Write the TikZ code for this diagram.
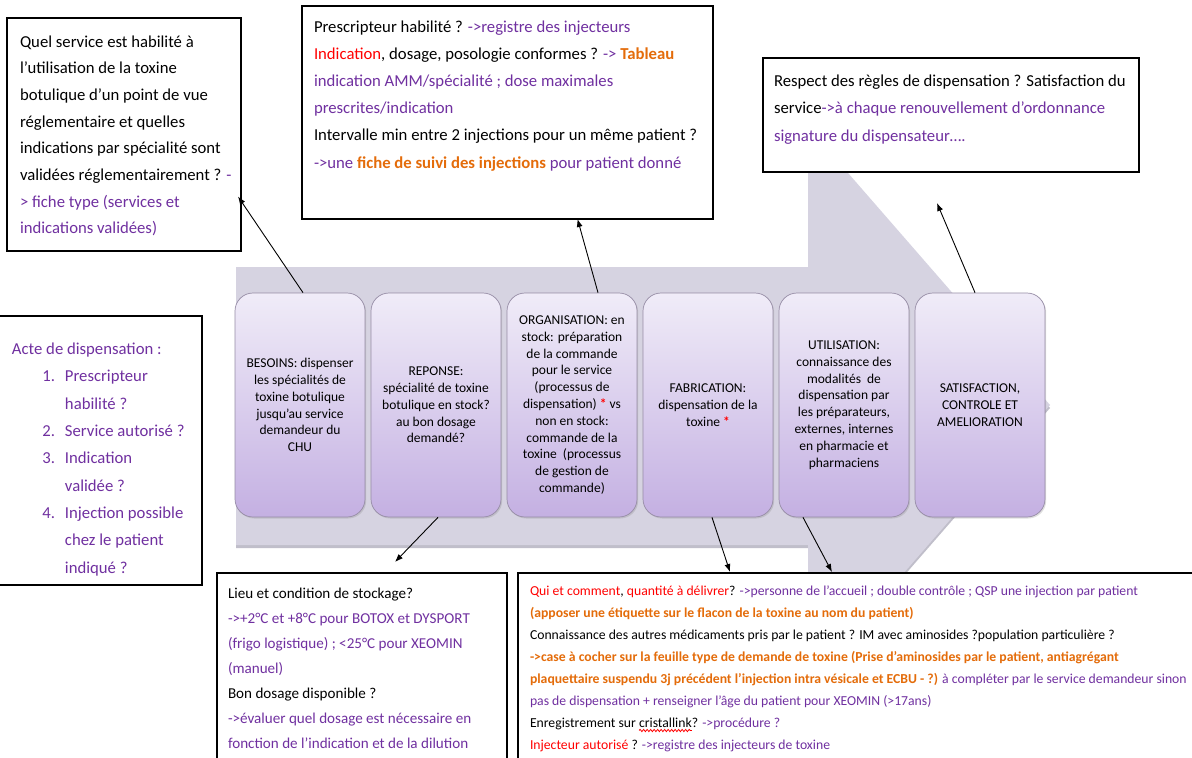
\documentclass[tikz,border=0pt]{standalone}
\usepackage{fontspec}
\setmainfont{Carlito}
\usetikzlibrary{arrows.meta,shadows,decorations.pathmorphing}
\definecolor{pur}{HTML}{7030A0}
\definecolor{org}{HTML}{E46C0A}
\definecolor{rd}{HTML}{FF0000}
\definecolor{arrowgray}{RGB}{214,211,225}
\definecolor{arrowshade}{RGB}{192,190,202}
\definecolor{boxtop}{HTML}{F0ECF8}
\definecolor{boxbot}{HTML}{C4B0E2}
\definecolor{boxedge}{RGB}{150,140,165}
\newcommand\Pu[1]{\textcolor{pur}{#1}}
\newcommand\Rd[1]{\textcolor{rd}{#1}}
\newcommand\Or[1]{\textcolor{org}{\bfseries #1}}
\newcommand\Ast{\textcolor{rd}{\bfseries*}}
\newcommand\Txt[3]{\parbox[t]{900pt}{\fontsize{#1}{#2}\selectfont\raggedright #3}}
\newlength\wavA
\newlength\wavB
\begin{document}
\settowidth{\wavA}{\fontsize{13.7}{22.1}\selectfont Enregistrement sur }%
\settowidth{\wavB}{\fontsize{13.7}{22.1}\selectfont cristallink}%
\begin{tikzpicture}[x=1pt,y=-1pt,
  frame/.style={draw=black, line width=1.1pt, fill=white, anchor=north west, inner sep=0pt, outer sep=0pt},
  txt/.style={anchor=base west, inner sep=0pt, outer sep=0pt},
  pbox/.style={rounded corners=18pt, draw=boxedge, line width=0.7pt, top color=boxtop, bottom color=boxbot,
    minimum width=130pt, minimum height=224pt, inner sep=1pt, align=center,
    font=\fontsize{13.5}{16.8}\selectfont,
    drop shadow={opacity=0.25, shadow xshift=1.2pt, shadow yshift=-1.5pt}},
  arr/.style={-{Latex[length=8pt,width=6pt]}, line width=0.9pt, black},
  wave/.style={draw=rd, line width=0.8pt, decorate, decoration={snake, segment length=3.5pt, amplitude=1.1pt}}]
\useasboundingbox (0,0) rectangle (1192,758);
\clip (0,0) rectangle (1192,758);
\fill[white] (0,0) rectangle (1192,758);

% big process arrow
\fill[arrowshade] (236,270) -- (808,270) -- (808,130) -- (1050,408) -- (808,686) -- (808,548) -- (236,548) -- cycle;
\fill[arrowgray] (236,267) -- (808,267) -- (808,127) -- (1050,405) -- (808,683) -- (808,545) -- (236,545) -- cycle;

% process boxes
\node[pbox] (p1) at (300,405) {BESOINS: dispenser\\les spécialités de\\toxine botulique\\jusqu'au service\\demandeur du\\CHU};
\node[pbox] (p2) at (436,405) {REPONSE:\\spécialité de toxine\\botulique en stock?\\au bon dosage\\demandé?};
\node[pbox] (p3) at (572,405) {ORGANISATION: en\\stock: préparation\\de la commande\\pour le service\\(processus de\\dispensation) \Ast{} vs\\non en stock:\\commande de la\\toxine \ (processus\\de gestion de\\commande)};
\node[pbox] (p4) at (708,405) {FABRICATION:\\dispensation de la\\toxine \Ast};
\node[pbox] (p5) at (844,405) {UTILISATION:\\connaissance des\\modalités \ de\\dispensation par\\les préparateurs,\\externes, internes\\en pharmacie et\\pharmaciens};
\node[pbox] (p6) at (980,405) {SATISFACTION,\\CONTROLE ET\\AMELIORATION};

% frames
\node[frame, minimum width=234pt, minimum height=233pt] (tl) at (7,18) {};
\node[frame, minimum width=411pt, minimum height=213pt] (tm) at (302,6) {};
\node[frame, minimum width=376pt, minimum height=114pt] (tr) at (763,58) {};
\node[frame, minimum width=204pt, minimum height=269pt] (lb) at (-2,316) {};
\node[frame, minimum width=290pt, minimum height=200pt] (bl) at (217,573) {};
\node[frame, minimum width=690pt, minimum height=200pt] (br) at (518,573) {};

% texts
\node[txt] (tlT) at (20,47) {\Txt{16.7}{26.7}{Quel service est habilité à\\
l’utilisation de la toxine\\
botulique d’un point de vue\\
réglementaire et quelles\\
indications par spécialité sont\\
validées réglementairement ? \Pu{-}\\
\Pu{> fiche type (services et}\\
\Pu{indications validées)}}};

\node[txt] (tmT) at (314,32) {\Txt{16.7}{27.2}{Prescripteur habilité ? \Pu{->registre des injecteurs}\\
\Rd{Indication}, dosage, posologie conformes ? \Pu{->} \Or{Tableau}\\
\Pu{indication AMM/spécialité ; dose maximales}\\
\Pu{prescrites/indication}\\
Intervalle min entre 2 injections pour un même patient ?\\
\Pu{->une} \Or{fiche de suivi des injections} \Pu{pour patient donné}}};

\node[txt] (trT) at (774,86) {\Txt{16.7}{27.5}{Respect des règles de dispensation ? Satisfaction du\\
service\Pu{->à chaque renouvellement d’ordonnance}\\
\Pu{signature du dispensateur….}}};

\node[txt] (lbT) at (12,343) {\Txt{16.7}{27.3}{\color{pur}Acte de dispensation :\\
\makebox[43pt][r]{1.}\hspace{10pt}Prescripteur\\
\hspace*{53pt}habilité ?\\
\makebox[43pt][r]{2.}\hspace{10pt}Service autorisé ?\\
\makebox[43pt][r]{3.}\hspace{10pt}Indication\\
\hspace*{53pt}validée ?\\
\makebox[43pt][r]{4.}\hspace{10pt}Injection possible\\
\hspace*{53pt}chez le patient\\
\hspace*{53pt}indiqué ?}};

\node[txt] (blT) at (228,598) {\Txt{15.1}{25}{Lieu et condition de stockage?\\
\Pu{->+2°C et +8°C pour BOTOX et DYSPORT}\\
\Pu{(frigo logistique) ; <25°C pour XEOMIN}\\
\Pu{(manuel)}\\
Bon dosage disponible ?\\
\Pu{->évaluer quel dosage est nécessaire en}\\
\Pu{fonction de l’indication et de la dilution}}};

\node[txt] (brT) at (530,595) {\Txt{13.7}{22.1}{\Rd{Qui et comment}, \Rd{quantité à délivrer}? \Pu{->personne de l’accueil ; double contrôle ; QSP une injection par patient}\\
\Or{(apposer une étiquette sur le flacon de la toxine au nom du patient)}\\
Connaissance des autres médicaments pris par le patient ? IM avec aminosides ?population particulière ?\\
\Or{->case à cocher sur la feuille type de demande de toxine (Prise d’aminosides par le patient, antiagrégant}\\
\Or{plaquettaire suspendu 3j précédent l’injection intra vésicale et ECBU - ?)} \Pu{à compléter par le service demandeur sinon}\\
\Pu{pas de dispensation + renseigner l’âge du patient pour XEOMIN (>17ans)}\\
Enregistrement sur cristallink? \Pu{->procédure ?}\\
\Rd{Injecteur autorisé} ? \Pu{->registre des injecteurs de toxine}}};
\coordinate (wv) at ([xshift=\wavA,yshift=-135.5pt]brT.base west);
\draw[wave] (wv) -- ([xshift=\wavB]wv);

% connectors
\coordinate (a3e) at (937,203);
\draw[arr] ([xshift=3pt]p1.north) -- ([xshift=-3pt,yshift=-62pt]tl.east);
\draw[arr] ([xshift=26pt]p3.north) -- ([xshift=70pt]tm.south);
\draw[arr] ([xshift=-5pt]p6.north) -- (a3e);
\draw[arr] ([xshift=2pt]p2.south) -- ([xshift=33pt,yshift=11pt]bl.north);
\draw[arr] ([xshift=4pt]p4.south) -- ([xshift=212pt,yshift=1pt]br.north west);
\draw[arr] ([xshift=-41pt]p5.south) -- ([xshift=314pt,yshift=1pt]br.north west);
\end{tikzpicture}
\end{document}
